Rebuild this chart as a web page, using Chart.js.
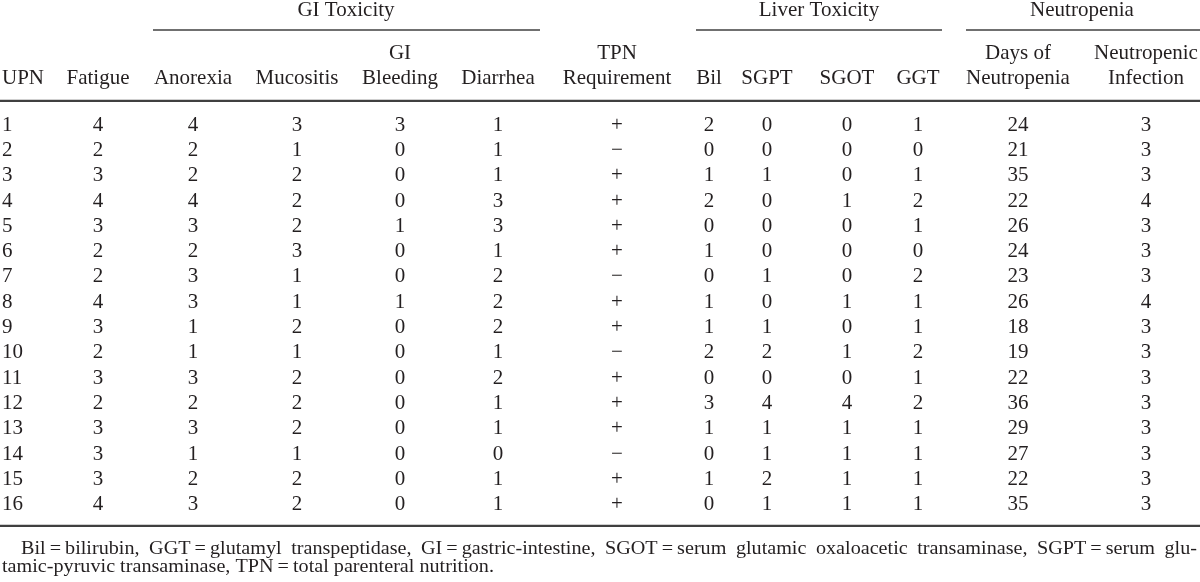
<!DOCTYPE html>
<html>
<head>
<meta charset="utf-8">
<script src="https://cdn.jsdelivr.net/npm/chart.js@4.4.1/dist/chart.umd.min.js"></script>
<style>
    html, body { margin: 0; padding: 0; background: #fff; }
    #wrap { width: 1200px; height: 582px; position: relative; }
</style>
</head>
<body>
<div id="wrap"><canvas id="toxTable"></canvas></div>
<script>
// Table data, one array per column
const upn        = [1, 2, 3, 4, 5, 6, 7, 8, 9, 10, 11, 12, 13, 14, 15, 16];
const fatigue    = [4, 2, 3, 4, 3, 2, 2, 4, 3, 2, 3, 2, 3, 3, 3, 4];
const anorexia   = [4, 2, 2, 4, 3, 2, 3, 3, 1, 1, 3, 2, 3, 1, 2, 3];
const mucositis  = [3, 1, 2, 2, 2, 3, 1, 1, 2, 1, 2, 2, 2, 1, 2, 2];
const giBleeding = [3, 0, 0, 0, 1, 0, 0, 1, 0, 0, 0, 0, 0, 0, 0, 0];
const diarrhea   = [1, 1, 1, 3, 3, 1, 2, 2, 2, 1, 2, 1, 1, 0, 1, 1];
const tpn        = ['+', '\u2212', '+', '+', '+', '+', '\u2212', '+', '+', '\u2212', '+', '+', '+', '\u2212', '+', '+'];
const bil        = [2, 0, 1, 2, 0, 1, 0, 1, 1, 2, 0, 3, 1, 0, 1, 0];
const sgpt       = [0, 0, 1, 0, 0, 0, 1, 0, 1, 2, 0, 4, 1, 1, 2, 1];
const sgot       = [0, 0, 0, 1, 0, 0, 0, 1, 0, 1, 0, 4, 1, 1, 1, 1];
const ggt        = [1, 0, 1, 2, 1, 0, 2, 1, 1, 2, 1, 2, 1, 1, 1, 1];
const daysNeut   = [24, 21, 35, 22, 26, 24, 23, 26, 18, 19, 22, 36, 29, 27, 22, 35];
const neutInfect = [3, 3, 3, 4, 3, 3, 3, 4, 3, 3, 3, 3, 3, 3, 3, 3];

const columnValues = [upn, fatigue, anorexia, mucositis, giBleeding, diarrhea, tpn,
    bil, sgpt, sgot, ggt, daysNeut, neutInfect];

const columnHeaders = [['UPN'], ['Fatigue'], ['Anorexia'], ['Mucositis'], ['GI', 'Bleeding'],
    ['Diarrhea'], ['TPN', 'Requirement'], ['Bil'], ['SGPT'], ['SGOT'], ['GGT'],
    ['Days of', 'Neutropenia'], ['Neutropenic', 'Infection']];

const groupLabels = ['GI Toxicity', 'Liver Toxicity', 'Neutropenia'];

const footnote = [
    'Bil\u2009=\u2009bilirubin, GGT\u2009=\u2009glutamyl transpeptidase, GI\u2009=\u2009gastric-intestine, SGOT\u2009=\u2009serum glutamic oxaloacetic transaminase, SGPT\u2009=\u2009serum glu-',
    'tamic-pyruvic transaminase, TPN\u2009=\u2009total parenteral nutrition.'
];

// Layout (x in page units, y in row units)
const colX = [2, 98, 193, 297, 400, 498, 617, 709, 767, 847, 918, 1018, 1146];
const groupSpan = [[153, 540], [696, 942], [966, 1200]];
const groupCenter = [346, 819, 1082];
const rowStep = 25.33;
const firstRowPx = 125;
const rowY = {
    group: -4.54, groupRule: -3.75, head1: -2.84, head2: -1.82,
    headRule: -0.95, bottomRule: 15.83, foot1: 16.74, foot2: 17.45
};

const ink = '#231f20';
const bodyFont = '21px "Liberation Serif", "Times New Roman", serif';
const footFont = '18px "Liberation Serif", "Times New Roman", serif';
const footStretch = 1.12;

const tablePlugin = {
    id: 'tablePlugin',
    afterDatasetsDraw(chart) {
        const ctx = chart.ctx;
        const xs = chart.scales.x;
        const ys = chart.scales.y;
        ctx.save();
        ctx.fillStyle = ink;
        ctx.strokeStyle = '#404040';
        ctx.textBaseline = 'middle';
        ctx.font = bodyFont;

        // group titles and their rules
        groupLabels.forEach((g, i) => {
            ctx.textAlign = 'center';
            ctx.fillText(g, xs.getPixelForValue(groupCenter[i]), ys.getPixelForValue(rowY.group));
            const yy = ys.getPixelForValue(rowY.groupRule);
            ctx.lineWidth = 1.6;
            ctx.beginPath();
            ctx.moveTo(xs.getPixelForValue(groupSpan[i][0]), yy);
            ctx.lineTo(xs.getPixelForValue(groupSpan[i][1]), yy);
            ctx.stroke();
        });

        // column headers, bottom-aligned
        columnHeaders.forEach((lines, c) => {
            ctx.textAlign = c === 0 ? 'left' : 'center';
            const x = xs.getPixelForValue(colX[c]);
            lines.forEach((t, k) => {
                const row = lines.length === 2 && k === 0 ? rowY.head1 : rowY.head2;
                ctx.fillText(t, x, ys.getPixelForValue(row));
            });
        });

        // horizontal rules
        ctx.lineWidth = 2.2;
        [rowY.headRule, rowY.bottomRule].forEach(r => {
            const yy = ys.getPixelForValue(r);
            ctx.beginPath();
            ctx.moveTo(chart.chartArea.left, yy);
            ctx.lineTo(chart.chartArea.right, yy);
            ctx.stroke();
        });

        // cell values at the dataset points
        chart.data.datasets.forEach((ds, c) => {
            const meta = chart.getDatasetMeta(c);
            ctx.textAlign = c === 0 ? 'left' : 'center';
            meta.data.forEach((pt, i) => {
                ctx.fillText(String(ds.cellText[i]), pt.x, pt.y);
            });
        });

        // footnote: first line indented and justified, text a bit wide
        ctx.font = footFont;
        ctx.textAlign = 'left';
        const words = footnote[0].split(' ');
        const left = xs.getPixelForValue(21), right = xs.getPixelForValue(1197);
        const widths = words.map(w => ctx.measureText(w).width * footStretch);
        const total = widths.reduce((a, b) => a + b, 0);
        const gap = (right - left - total) / (words.length - 1);
        const y1 = ys.getPixelForValue(rowY.foot1);
        let x = left;
        words.forEach((w, i) => {
            ctx.save();
            ctx.translate(x, y1);
            ctx.scale(footStretch, 1);
            ctx.fillText(w, 0, 0);
            ctx.restore();
            x += widths[i] + gap;
        });
        ctx.save();
        ctx.translate(xs.getPixelForValue(2), ys.getPixelForValue(rowY.foot2));
        ctx.scale(footStretch, 1);
        ctx.fillText(footnote[1], 0, 0);
        ctx.restore();
        ctx.restore();
    }
};

const datasets = columnValues.map((vals, c) => ({
    data: vals.map((v, i) => ({ x: colX[c], y: i })),
    cellText: vals,
    pointRadius: 0,
    showLine: false
}));

new Chart(document.getElementById('toxTable'), {
    type: 'scatter',
    data: { datasets },
    options: {
        responsive: true,
        maintainAspectRatio: false,
        animation: false,
        layout: { padding: 0 },
        plugins: { legend: { display: false }, tooltip: { enabled: false } },
        scales: {
            x: { type: 'linear', min: 0, max: 1200, display: false },
            y: {
                type: 'linear', reverse: true, display: false,
                min: -firstRowPx / rowStep, max: (582 - firstRowPx) / rowStep
            }
        }
    },
    plugins: [tablePlugin]
});
</script>
</body>
</html>
